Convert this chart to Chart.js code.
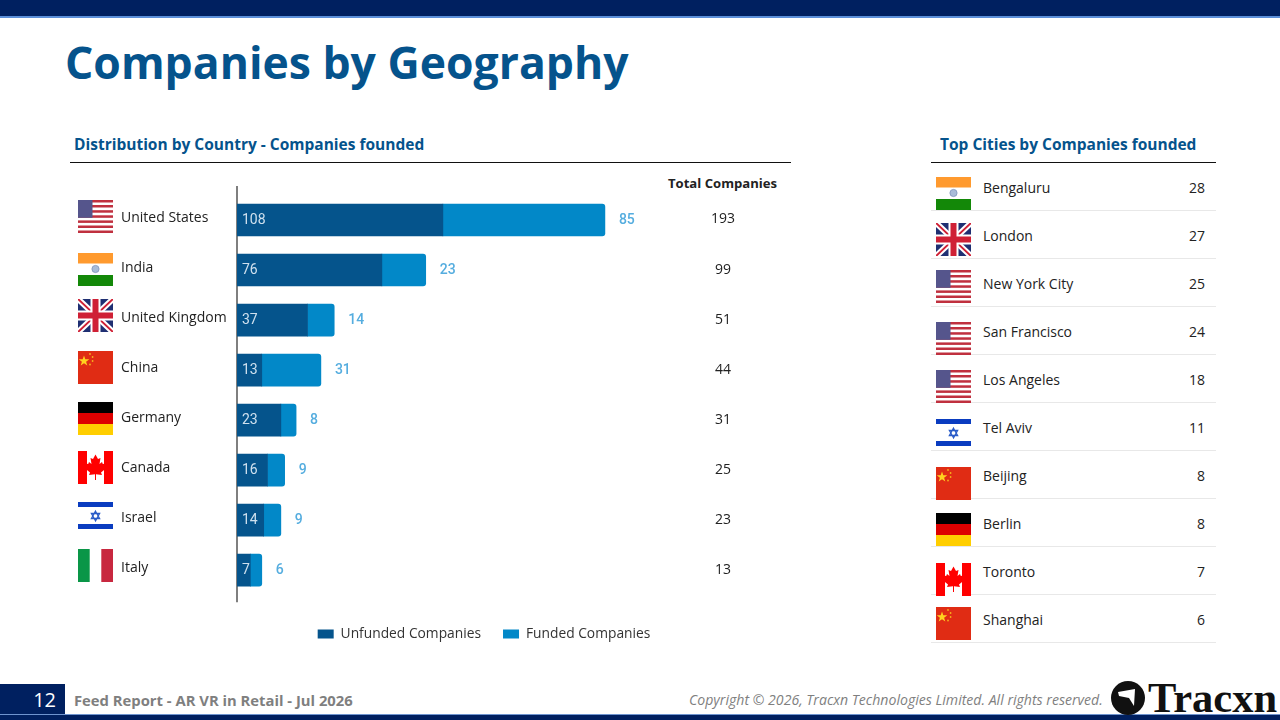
<!DOCTYPE html>
<html>
<head>
<meta charset="utf-8">
<title>Companies by Geography</title>
<script src="https://cdn.jsdelivr.net/npm/chart.js@4"></script>
<style>
  html, body { margin:0; padding:0; background:#fff; }
  body { position:relative; width:1280px; height:720px; overflow:hidden; font-family:"Open Sans",sans-serif; color:#222; }
  .abs { position:absolute; white-space:nowrap; }
  .topbar { left:0; top:0; width:1280px; height:16px; background:#002060; border-bottom:2px solid #5b8fd9; }
  .title { left:65px; top:30px; font-size:44.5px; line-height:64px; font-weight:700; color:#05538c; }
  .head { font-size:15.5px; line-height:22px; font-weight:700; color:#05538c; top:133px; }
  .rule { height:1px; background:#111; top:162px; }
  .totalhead { left:668px; top:174px; font-size:13.1px; line-height:18px; font-weight:700; color:#222; }
  .row { left:931px; width:285px; height:47px; border-bottom:1px solid #e8e8e8; }
  .row .name { position:absolute; left:52px; top:14.5px; font-size:14px; line-height:20px; }
  .row .num { position:absolute; right:11px; top:14.5px; font-size:14px; line-height:20px; }
  canvas { position:absolute; left:60px; top:170px; }
  svg.flag { position:absolute; width:35px; height:33px; }
  .pagebox { left:0; top:684px; width:65px; height:31px; background:#002060; color:#fff; font-size:20px; line-height:32px; text-align:right; }
  .pagebox span { padding-right:9px; }
  .botbar { left:0; top:714px; width:1280px; height:6px; background:#002060; border-top:1px solid #6f94cf; box-sizing:border-box; }
  .feed { left:74px; top:690px; font-size:14.8px; line-height:20px; font-weight:700; color:#7f7f7f; }
  .copy { left:689px; top:690px; font-size:14.1px; line-height:20px; font-style:italic; color:#7f7f7f; }
  .logo { left:1148px; top:677px; font-family:"Liberation Serif",serif; font-weight:700; font-size:42.5px; line-height:42px; color:#111; }
</style>
</head>
<body>

<svg width="0" height="0" style="position:absolute">
  <symbol id="fl-us" viewBox="0 0 35 33">
    <rect width="35" height="33" fill="#fff"/>
    <g fill="#c0303f">
      <rect y="0" width="35" height="2.5"/><rect y="5" width="35" height="2.5"/><rect y="10.2" width="35" height="2.5"/>
      <rect y="15.3" width="35" height="2.5"/><rect y="20.4" width="35" height="2.5"/><rect y="25.5" width="35" height="2.5"/><rect y="30.5" width="35" height="2.5"/>
    </g>
    <rect width="14.5" height="17.8" fill="#55558c"/>
  </symbol>
  <symbol id="fl-in" viewBox="0 0 35 33">
    <rect width="35" height="33" fill="#fff"/>
    <rect width="35" height="10.5" fill="#ff9a2e"/>
    <rect y="22" width="35" height="11" fill="#138808"/>
    <circle cx="17.5" cy="16" r="3.6" fill="#a9bcd8" stroke="#7d92ba" stroke-width=".8"/>
  </symbol>
  <symbol id="fl-gb" viewBox="0 0 35 33">
    <rect width="35" height="33" fill="#1f2f72"/>
    <path d="M0 0L35 33M35 0L0 33" stroke="#fff" stroke-width="6"/>
    <path d="M0 0L35 33M35 0L0 33" stroke="#cf2035" stroke-width="2"/>
    <path d="M17.5 0V33M0 16.5H35" stroke="#fff" stroke-width="10"/>
    <path d="M17.5 0V33M0 16.5H35" stroke="#cf2035" stroke-width="6"/>
  </symbol>
  <symbol id="fl-cn" viewBox="0 0 35 33">
    <rect width="35" height="33" fill="#e02c14"/>
    <polygon points="6,4.5 7.3,8.3 11.3,8.3 8.1,10.7 9.3,14.5 6,12.2 2.7,14.5 3.9,10.7 .7,8.3 4.7,8.3" fill="#ffd21e"/>
    <g fill="#f6b01e"><circle cx="12" cy="3" r=".9"/><circle cx="14.6" cy="6" r=".9"/><circle cx="14.6" cy="10" r=".9"/><circle cx="12" cy="13.5" r=".9"/></g>
  </symbol>
  <symbol id="fl-de" viewBox="0 0 35 33">
    <rect width="35" height="11" fill="#000"/>
    <rect y="11" width="35" height="11" fill="#dd0000"/>
    <rect y="22" width="35" height="11" fill="#ffce00"/>
  </symbol>
  <symbol id="fl-ca" viewBox="0 0 35 33">
    <rect width="35" height="33" fill="#fff"/>
    <rect width="9" height="33" fill="#ff0000"/>
    <rect x="26" width="9" height="33" fill="#ff0000"/>
    <polygon points="17.5,3.5 20,8 22.5,7 21.5,13 24,11 24.8,13 28,12.5 27,16 28.5,17 23,21.5 24,24 18,23.2 18,29 17,29 17,23.2 11,24 12,21.5 6.5,17 8,16 7,12.5 10.2,13 11,11 13.5,13 12.5,7 15,8" fill="#ff0000"/>
  </symbol>
  <symbol id="fl-il" viewBox="0 0 35 33">
    <rect y="2" width="35" height="29" fill="#fff"/>
    <rect y="3" width="35" height="5" fill="#0a3cc0"/>
    <rect y="25" width="35" height="5" fill="#0a3cc0"/>
    <path d="M17.5 12.2L21.6 19.5H13.4ZM17.5 21.8L13.4 14.5H21.6Z" fill="none" stroke="#2a5cc8" stroke-width="1.3"/>
  </symbol>
  <symbol id="fl-it" viewBox="0 0 35 33">
    <rect width="35" height="33" fill="#fff"/>
    <rect width="11.7" height="33" fill="#0a9647"/>
    <rect x="23.3" width="11.7" height="33" fill="#c8283f"/>
  </symbol>
</svg>

<div class="abs topbar"></div>
<div class="abs title">Companies by Geography</div>

<div class="abs head" style="left:74px">Distribution by Country - Companies founded</div>
<div class="abs rule" style="left:70px;width:721px"></div>
<div class="abs head" style="left:940px">Top Cities by Companies founded</div>
<div class="abs rule" style="left:931px;width:285px"></div>
<div class="abs totalhead">Total Companies</div>

<canvas id="ch_geo" width="848" height="482"></canvas>
<div id="cities"></div>

<div class="abs pagebox"><span>12</span></div>
<div class="abs botbar"></div>
<div class="abs feed">Feed Report - AR VR in Retail - Jul 2026</div>
<div class="abs copy">Copyright © 2026, Tracxn Technologies Limited. All rights reserved.</div>
<svg class="abs" style="left:1110px;top:680px" width="36" height="36" viewBox="0 0 36 36">
  <circle cx="18" cy="18" r="17" fill="#111"/>
  <path d="M8 12L25 9L24 26L19 18L9 16Z" fill="#fff"/>
</svg>
<div class="abs logo">Tracxn</div>

<script>
'use strict';

/* ── Data ── */
const countries = ['United States','India','United Kingdom','China','Germany','Canada','Israel','Italy'];
const unfunded  = [108,76,37,13,23,16,14,7];
const funded    = [85,23,14,31,8,9,9,6];
const totals    = [193,99,51,44,31,25,23,13];

const cities     = ['Bengaluru','London','New York City','San Francisco','Los Angeles','Tel Aviv','Beijing','Berlin','Toronto','Shanghai'];
const cityCounts = [28,27,25,24,18,11,8,8,7,6];

const countryFlags = ['us','in','gb','cn','de','ca','il','it'];
const cityFlags    = ['in','gb','us','us','us','il','cn','de','ca','cn'];

/* ── Flags ── */
const countryFlagTops = [200,253,299,351,402,451,499,549];
const cityFlagTops    = [177,223,270,322,370,416,467,513,563,607];

function addFlag(code, left, top) {
  const svg = document.createElementNS('http://www.w3.org/2000/svg','svg');
  svg.setAttribute('class','flag');
  svg.style.left = left + 'px';
  svg.style.top = top + 'px';
  const use = document.createElementNS('http://www.w3.org/2000/svg','use');
  use.setAttribute('href','#fl-' + code);
  svg.appendChild(use);
  document.body.appendChild(svg);
}
countryFlags.forEach((c,i) => addFlag(c, 78, countryFlagTops[i]));
cityFlags.forEach((c,i) => addFlag(c, 936, cityFlagTops[i]));

/* ── City table ── */
const box = document.getElementById('cities');
cities.forEach((name,i) => {
  const row = document.createElement('div');
  row.className = 'abs row';
  row.style.top = (163 + i*48) + 'px';
  row.innerHTML = `<span class="name">${name}</span><span class="num">${cityCounts[i]}</span>`;
  box.appendChild(row);
});

/* ── Chart ── */
Chart.defaults.font.family = '"Open Sans",sans-serif';

const C = { dark:'#05548c', light:'#0288c8', inside:'#cfe0ee', outside:'#55addf', axis:'#555' };

const barLabels = {
  id:'barLabels',
  afterDatasetsDraw(chart) {
    const { ctx, scales:{ x, y } } = chart;
    ctx.save();
    ctx.textBaseline = 'middle';
    countries.forEach((c,i) => {
      const yy = y.getPixelForValue(i);
      ctx.textAlign = 'left';
      ctx.font = '14px Roboto';
      ctx.fillStyle = C.inside;
      ctx.fillText(unfunded[i], x.getPixelForValue(0) + 5, yy);
      ctx.font = '500 14px Roboto';
      ctx.fillStyle = C.outside;
      ctx.fillText(funded[i], x.getPixelForValue(totals[i]) + 14, yy);
      ctx.font = '14px "Open Sans"';
      ctx.textAlign = 'center';
      ctx.fillStyle = '#222';
      ctx.fillText(totals[i], 663, yy - 0.5);
    });
    ctx.restore();
  }
};

const axisLine = {
  id:'axisLine',
  beforeDatasetsDraw(chart) {
    const { ctx, chartArea } = chart;
    ctx.save();
    ctx.strokeStyle = C.axis;
    ctx.lineWidth = 1.5;
    ctx.beginPath();
    ctx.moveTo(chartArea.left, chartArea.top - 9);
    ctx.lineTo(chartArea.left, chartArea.bottom + 7);
    ctx.stroke();
    ctx.restore();
  }
};

new Chart(document.getElementById('ch_geo'), {
  type:'bar',
  plugins:[axisLine, barLabels],
  data:{
    labels:countries,
    datasets:[
      { label:'Unfunded Companies', data:unfunded, backgroundColor:C.dark, barThickness:32 },
      { label:'Funded Companies', data:funded, backgroundColor:C.light, barThickness:32,
        borderRadius:{ topRight:3, bottomRight:3 }, borderSkipped:false }
    ]
  },
  options:{
    indexAxis:'y', responsive:false, animation:false,
    layout:{ padding:{ left:61, right:61, top:25, bottom:1 } },
    plugins:{
      tooltip:{ enabled:false },
      legend:{ position:'bottom',
        labels:{ color:'#333', font:{ size:13.8 }, boxWidth:16, boxHeight:9, padding:22 } }
    },
    scales:{
      x:{ stacked:true, min:0, max:320, grid:{ display:false }, border:{ display:false },
          ticks:{ display:false }, afterFit:s => { s.height = 10; } },
      y:{ stacked:true, grid:{ display:false, drawTicks:false }, border:{ display:false },
          ticks:{ color:'#222', font:{ size:14 }, crossAlign:'far', labelOffset:-2, padding:0 },
          afterFit:s => { s.width = 116; } }
    }
  }
});
</script>
</body>
</html>
